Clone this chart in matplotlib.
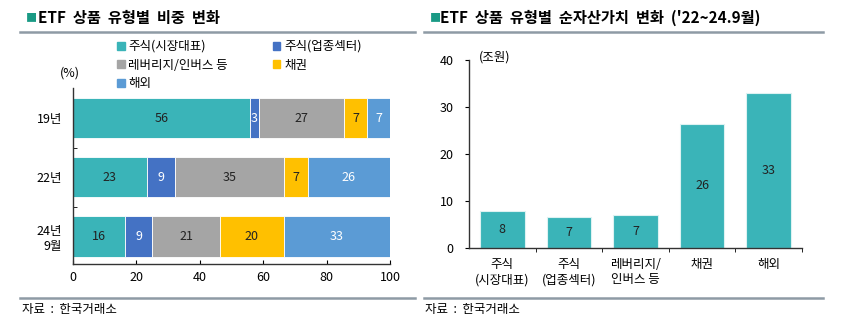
import matplotlib.pyplot as plt
from matplotlib.lines import Line2D
from matplotlib.patches import Patch

plt.rcParams['font.family'] = ['Noto Sans CJK KR', 'DejaVu Sans']

# left: share by ETF type (%)
years = ["19년", "22년", "24년\n9월"]
types = ["주식(시장대표)", "주식(업종섹터)", "레버리지/인버스 등", "채권", "해외"]
share = [
    [55.8, 2.8, 26.9, 7.3, 7.2],
    [23.3, 8.8, 34.6, 7.4, 25.9],
    [16.4, 8.6, 21.3, 20.2, 33.4],
]
colors = ["#3AB4B8", "#4472C4", "#A5A5A5", "#FFC000", "#5B9BD5"]
txt_colors = ["#222222", "white", "#222222", "#222222", "white"]

# right: net asset value change '22~24.9 (trillion won)
nav_cats = ["주식\n(시장대표)", "주식\n(업종섹터)", "레버리지/\n인버스 등", "채권", "해외"]
nav_vals = [7.9, 6.6, 7.1, 26.4, 33.0]

W, H = 851, 329
FS = 9
fig = plt.figure(figsize=(W / 100, H / 100), dpi=100)


def fx(px):
    return px / W


def fy(py):
    return 1 - py / H


rule_c = "#8E9BA5"


def rule(x0, x1, y):
    fig.add_artist(Line2D([fx(x0), fx(x1)], [fy(y), fy(y)], color=rule_c, lw=1.8))


# ---- left chart
ax1 = fig.add_axes([fx(73), fy(264), fx(390) - fx(73), fy(88) - fy(264)])
left = [0.0] * len(years)
for j, t in enumerate(types):
    vals = [row[j] for row in share]
    bars = ax1.barh(range(len(years)), vals, left=left, height=0.68,
                    color=colors[j], edgecolor="white", linewidth=0.6, label=t)
    for i, b in enumerate(bars):
        ax1.text(b.get_x() + b.get_width() / 2, b.get_y() + b.get_height() / 2,
                 f"{vals[i]:.0f}", ha="center", va="center",
                 fontsize=FS, color=txt_colors[j])
    left = [l + v for l, v in zip(left, vals)]

ax1.set_xlim(0, 100)
ax1.set_ylim(2.466, -0.508)
ax1.set_xticks(range(0, 101, 20))
ax1.set_yticks(range(len(years)))
ax1.set_yticklabels(years, fontsize=FS, linespacing=1.2)
ax1.set_yticks([0.5, 1.5], minor=True)
ax1.tick_params(axis="y", which="major", length=0, pad=8)
ax1.tick_params(axis="y", which="minor", direction="in", length=3)
ax1.tick_params(axis="x", direction="in", length=3, labelsize=FS, pad=5)
for s in ["top", "right"]:
    ax1.spines[s].set_visible(False)
for s in ["left", "bottom"]:
    ax1.spines[s].set_color("#333333")
    ax1.spines[s].set_linewidth(1.0)

order = [0, 2, 4, 1, 3]
leg = fig.legend([Patch(color=colors[k]) for k in order], [types[k] for k in order],
                 ncol=2, loc="upper left", bbox_to_anchor=(fx(117), fy(40)),
                 frameon=False, fontsize=FS, handlelength=0.6, handleheight=0.6,
                 handletextpad=0.3, columnspacing=3.6, labelspacing=0.45,
                 borderaxespad=0, borderpad=0)
fig.text(fx(70), fy(73), "(%)", ha="center", va="center", fontsize=FS)

# ---- right chart
ax2 = fig.add_axes([fx(469), fy(248), fx(802) - fx(469), fy(60) - fy(248)])
bars = ax2.bar(range(len(nav_cats)), nav_vals, width=0.67, color="#3AB4B8",
               edgecolor="#DDF2F2", linewidth=0.8)
for b, v in zip(bars, nav_vals):
    ax2.text(b.get_x() + b.get_width() / 2, v / 2, f"{v:.0f}",
             ha="center", va="center", fontsize=FS, color="#222222")
ax2.set_xlim(-0.5, len(nav_cats) - 0.5)
ax2.set_ylim(0, 40)
ax2.set_yticks(range(0, 41, 10))
ax2.set_xticks(range(len(nav_cats)))
ax2.set_xticklabels(nav_cats, fontsize=FS, linespacing=1.25)
ax2.set_xticks([i + 0.5 for i in range(len(nav_cats))], minor=True)
ax2.tick_params(axis="x", which="major", length=0, pad=7)
ax2.tick_params(axis="x", which="minor", direction="out", length=3)
ax2.tick_params(axis="y", direction="out", length=3, labelsize=FS, pad=8)
for s in ["top", "right"]:
    ax2.spines[s].set_visible(False)
for s in ["left", "bottom"]:
    ax2.spines[s].set_color("#333333")
    ax2.spines[s].set_linewidth(1.0)
fig.text(fx(479), fy(57), "(조원)", ha="left", va="center", fontsize=FS)

# ---- titles, rules, source
sq_c = "#1A9A85"
fig.text(fx(26), fy(18), "■", color=sq_c, fontsize=8, ha="left", va="center")
fig.text(fx(38), fy(18), "ETF  상품  유형별  비중  변화", fontsize=11,
         fontweight="bold", ha="left", va="center")
fig.text(fx(430), fy(18), "■", color=sq_c, fontsize=8, ha="left", va="center")
fig.text(fx(440), fy(18), "ETF  상품  유형별  순자산가치  변화  ('22~24.9월)",
         fontsize=11, fontweight="bold", ha="left", va="center")
rule(20, 415, 32)
rule(424, 823, 32)
rule(20, 415, 297.5)
rule(424, 823, 297.5)
fig.text(fx(22), fy(309), "자료  :  한국거래소", fontsize=FS, ha="left", va="center")
fig.text(fx(425), fy(309), "자료  :  한국거래소", fontsize=FS, ha="left", va="center")

fig.savefig("out.png", dpi=100)
